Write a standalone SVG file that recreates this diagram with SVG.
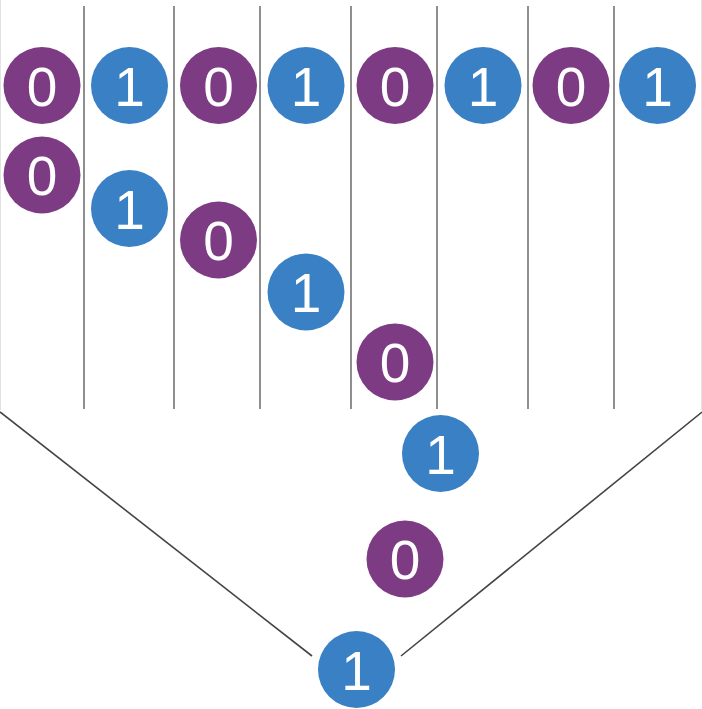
<svg xmlns="http://www.w3.org/2000/svg" width="702" height="709" viewBox="0 0 702 709">
<style>
.lane{stroke:#8e8e8e;stroke-width:2;fill:none}
.edge{stroke:#e2e2e2;stroke-width:1;fill:none}
.funnel{stroke:#444;stroke-width:1.6;fill:none}
.p{fill:#7d3b84}
.b{fill:#3a80c4}
text{font-family:"Liberation Sans",Arial,sans-serif;font-size:55px;fill:#fff;text-anchor:middle}
</style>
<rect width="702" height="709" fill="#fff"/>
<g id="connectors">
<line class="edge" x1="0.5" y1="0" x2="0.5" y2="410"/>
<line class="edge" x1="701.5" y1="0" x2="701.5" y2="410"/>
<line class="lane" x1="84" y1="6" x2="84" y2="409"/>
<line class="lane" x1="174" y1="6" x2="174" y2="409"/>
<line class="lane" x1="260" y1="6" x2="260" y2="409"/>
<line class="lane" x1="351" y1="6" x2="351" y2="409"/>
<line class="lane" x1="437" y1="6" x2="437" y2="409"/>
<line class="lane" x1="528" y1="6" x2="528" y2="409"/>
<line class="lane" x1="614" y1="6" x2="614" y2="409"/>
<line class="funnel" x1="0" y1="412" x2="312" y2="656"/>
<line class="funnel" x1="702" y1="412" x2="401" y2="656"/>
</g>
<g id="t1"><circle class="p" cx="42" cy="85.5" r="38.5"/><text x="42" y="105.5">0</text></g>
<g id="t2"><circle class="b" cx="129.5" cy="85.5" r="38.5"/><text x="129.5" y="105.5">1</text></g>
<g id="t3"><circle class="p" cx="218.5" cy="85.5" r="38.5"/><text x="218.5" y="105.5">0</text></g>
<g id="t4"><circle class="b" cx="306" cy="85.5" r="38.5"/><text x="306" y="105.5">1</text></g>
<g id="t5"><circle class="p" cx="395" cy="85.5" r="38.5"/><text x="395" y="105.5">0</text></g>
<g id="t6"><circle class="b" cx="483" cy="85.5" r="38.5"/><text x="483" y="105.5">1</text></g>
<g id="t7"><circle class="p" cx="571" cy="85.5" r="38.5"/><text x="571" y="105.5">0</text></g>
<g id="t8"><circle class="b" cx="657.5" cy="85.5" r="38.5"/><text x="657.5" y="105.5">1</text></g>
<g id="s1"><circle class="p" cx="42" cy="175" r="38.5"/><text x="42" y="195">0</text></g>
<g id="s2"><circle class="b" cx="129.5" cy="208.5" r="38.5"/><text x="129.5" y="228.5">1</text></g>
<g id="s3"><circle class="p" cx="218.5" cy="240" r="38.5"/><text x="218.5" y="260">0</text></g>
<g id="s4"><circle class="b" cx="306" cy="292" r="38.5"/><text x="306" y="312">1</text></g>
<g id="s5"><circle class="p" cx="395" cy="362" r="38.5"/><text x="395" y="382">0</text></g>
<g id="s6"><circle class="b" cx="440.5" cy="453.5" r="38.5"/><text x="440.5" y="473.5">1</text></g>
<g id="s7"><circle class="p" cx="405" cy="559" r="38.5"/><text x="405" y="579">0</text></g>
<g id="s8"><circle class="b" cx="356.5" cy="669.5" r="38.5"/><text x="356.5" y="689.5">1</text></g>
</svg>
